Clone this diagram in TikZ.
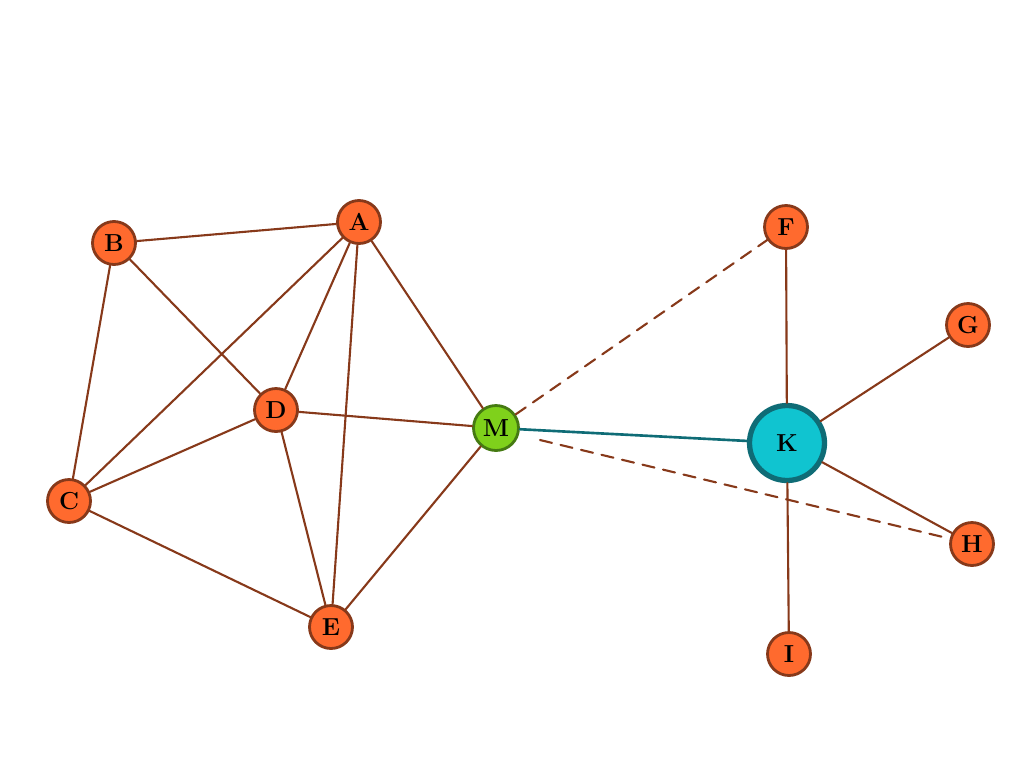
\documentclass[tikz,border=0pt]{standalone}
\usepackage{xcolor}
\definecolor{nodeorange}{HTML}{FF6A2E}
\definecolor{edgebrown}{HTML}{87391A}
\definecolor{mgreen}{HTML}{7FD11B}
\definecolor{mborder}{HTML}{457A12}
\definecolor{kcyan}{HTML}{10C4D0}
\definecolor{kborder}{HTML}{0F6C76}
\tikzset{
  vertex/.style={circle, draw=edgebrown, fill=nodeorange, line width=1.6pt, minimum size=0.86cm, inner sep=0pt, font=\fontsize{14}{14}\selectfont\bfseries},
  hub/.style={vertex, draw=mborder, fill=mgreen, minimum size=0.9cm},
  center/.style={vertex, draw=kborder, fill=kcyan, line width=3pt, minimum size=1.5cm},
  edge/.style={draw=edgebrown, line width=1.2pt},
  weak/.style={edge, dashed, dash pattern=on 7pt off 5pt}
}
\begin{document}
\begin{tikzpicture}[line cap=round,line join=round,x=0.02cm,y=-0.02cm]
\useasboundingbox (0,0) rectangle (1024,768);
% nodes
\node[vertex] (A) at (359,222) {A};
\node[vertex] (B) at (114,243) {B};
\node[vertex] (C) at (69,501) {C};
\node[vertex] (D) at (276,410) {D};
\node[vertex] (E) at (331,627) {E};
\node[hub] (M) at (496,428) {M};
\node[center] (K) at (787,443) {K};
\node[vertex] (F) at (786,227) {F};
\node[vertex] (G) at (968,325) {G};
\node[vertex] (H) at (972,544) {H};
\node[vertex] (I) at (789,654) {I};
\coordinate (Mh) at (540,440);

% edges
\begin{scope}[on background layer/.try]
\end{scope}
\foreach \u/\v in {A/B, A/C, A/D, A/E, A/M, B/C, B/D, C/D, C/E, D/E, D/M, E/M, K/F, K/G, K/H, K/I}
  \draw[edge] (\u) -- (\v);
\draw[draw=kborder, line width=1.5pt] (M) -- (K);
\draw[weak] (M) -- (F);
\draw[weak] (Mh) -- (H);
\end{tikzpicture}
\end{document}
